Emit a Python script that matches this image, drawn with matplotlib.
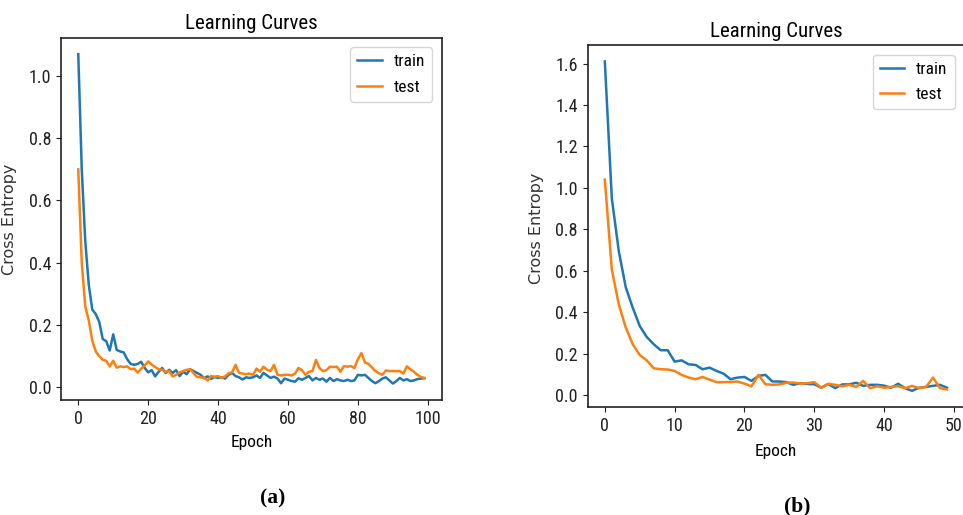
import matplotlib
matplotlib.use("Agg")
import matplotlib.pyplot as plt
import numpy as np

# (a) 100 epochs
train_a = [1.07, 0.70, 0.47, 0.33, 0.25, 0.235, 0.21, 0.155, 0.148, 0.118,
           0.17, 0.12, 0.115, 0.112, 0.09, 0.075, 0.072, 0.075, 0.082, 0.062,
           0.048, 0.055, 0.035, 0.050, 0.062, 0.046, 0.056, 0.046, 0.055, 0.036,
           0.050, 0.042, 0.058, 0.052, 0.046, 0.040, 0.029, 0.035, 0.027, 0.033,
           0.030, 0.032, 0.028, 0.040, 0.046, 0.036, 0.032, 0.025, 0.032, 0.030,
           0.032, 0.038, 0.030, 0.046, 0.038, 0.030, 0.034, 0.028, 0.013, 0.028,
           0.024, 0.020, 0.018, 0.029, 0.024, 0.030, 0.036, 0.022, 0.030, 0.024,
           0.028, 0.018, 0.030, 0.020, 0.026, 0.022, 0.020, 0.024, 0.020, 0.022,
           0.040, 0.038, 0.040, 0.030, 0.020, 0.013, 0.020, 0.028, 0.032, 0.022,
           0.012, 0.020, 0.030, 0.022, 0.026, 0.020, 0.022, 0.026, 0.028, 0.029]
test_a = [0.70, 0.40, 0.26, 0.215, 0.15, 0.115, 0.10, 0.088, 0.085, 0.067,
          0.085, 0.063, 0.067, 0.065, 0.067, 0.058, 0.060, 0.047, 0.060, 0.070,
          0.083, 0.073, 0.065, 0.058, 0.056, 0.050, 0.052, 0.035, 0.040, 0.048,
          0.052, 0.056, 0.058, 0.045, 0.033, 0.032, 0.030, 0.022, 0.036, 0.034,
          0.036, 0.030, 0.035, 0.045, 0.048, 0.072, 0.046, 0.044, 0.042, 0.044,
          0.040, 0.060, 0.050, 0.066, 0.056, 0.052, 0.072, 0.040, 0.038, 0.040,
          0.040, 0.038, 0.044, 0.062, 0.055, 0.040, 0.050, 0.052, 0.088, 0.062,
          0.052, 0.055, 0.066, 0.065, 0.066, 0.050, 0.068, 0.066, 0.068, 0.062,
          0.090, 0.110, 0.080, 0.075, 0.064, 0.052, 0.045, 0.040, 0.054, 0.052,
          0.052, 0.052, 0.052, 0.044, 0.067, 0.058, 0.050, 0.040, 0.033, 0.030]

# (b) 50 epochs
train_b = [1.61, 0.95, 0.695, 0.52, 0.422, 0.334, 0.281, 0.246, 0.217, 0.217,
           0.162, 0.168, 0.149, 0.146, 0.125, 0.133, 0.117, 0.104, 0.077, 0.085,
           0.088, 0.069, 0.093, 0.098, 0.066, 0.066, 0.063, 0.050, 0.058, 0.054,
           0.053, 0.036, 0.054, 0.034, 0.052, 0.052, 0.060, 0.045, 0.050, 0.050,
           0.046, 0.036, 0.055, 0.034, 0.021, 0.036, 0.040, 0.045, 0.050, 0.036]
test_b = [1.04, 0.607, 0.438, 0.326, 0.246, 0.194, 0.168, 0.130, 0.125, 0.124,
          0.117, 0.098, 0.085, 0.077, 0.088, 0.075, 0.063, 0.063, 0.064, 0.066,
          0.056, 0.043, 0.098, 0.053, 0.050, 0.052, 0.060, 0.061, 0.056, 0.058,
          0.063, 0.036, 0.055, 0.050, 0.043, 0.050, 0.040, 0.069, 0.034, 0.043,
          0.036, 0.040, 0.043, 0.034, 0.045, 0.034, 0.040, 0.085, 0.034, 0.028]

# condensed look of the original; falls through to the first one installed
narrow = ['Roboto Condensed', 'DejaVu Sans Condensed', 'Liberation Sans Narrow',
          'Liberation Sans', 'DejaVu Sans']
plt.rcParams['font.family'] = narrow
plt.rcParams['axes.linewidth'] = 1.2
plt.rcParams['axes.edgecolor'] = '#222222'

fig = plt.figure(figsize=(9.63, 5.15), dpi=100)

panels = [
    (train_a, test_a, [0.0633, 0.2233, 0.3953, 0.7035], [0, 20, 40, 60, 80, 100],
     np.arange(0, 1.01, 0.2), (-0.116, 0.5), -0.097),
    (train_b, test_b, [0.6103, 0.2091, 0.3908, 0.7035], [0, 10, 20, 30, 40, 50],
     np.arange(0, 1.61, 0.2), (-0.115, 0.494), -0.101),
]

for train, test, rect, xt, yt, ylab_pos, xlab_y in panels:
    ax = fig.add_axes(rect)
    ax.plot(np.arange(len(train)), train, color='#1f77b4', lw=1.8, label='train')
    ax.plot(np.arange(len(test)), test, color='#ff7f0e', lw=1.8, label='test')
    ax.set_xticks(xt)
    ax.set_yticks(yt)
    ax.set_yticklabels([f"{v:.1f}" for v in yt])
    ax.tick_params(labelsize=13, colors='#222222')
    ax.set_title("Learning Curves", fontsize=15)
    ax.set_xlabel("Epoch", fontsize=12.5)
    ax.xaxis.set_label_coords(0.5, xlab_y)
    ax.set_ylabel("Cross Entropy", fontsize=11.5, family='DejaVu Sans',
                  color='#333333')
    ax.yaxis.set_label_coords(*ylab_pos)
    ax.legend(loc='upper right', fontsize=12.5, handlelength=1.4,
              handletextpad=0.7, labelspacing=0.6, borderaxespad=0.55)

fig.text(273 / 963, 1 - 498 / 515, "(a)", family='Liberation Serif',
         fontweight='bold', fontsize=15.5, ha='center', va='center')
fig.text(797 / 963, 1 - 506 / 515, "(b)", family='Liberation Serif',
         fontweight='bold', fontsize=15.5, ha='center', va='center')

fig.savefig("out.png", dpi=100)
